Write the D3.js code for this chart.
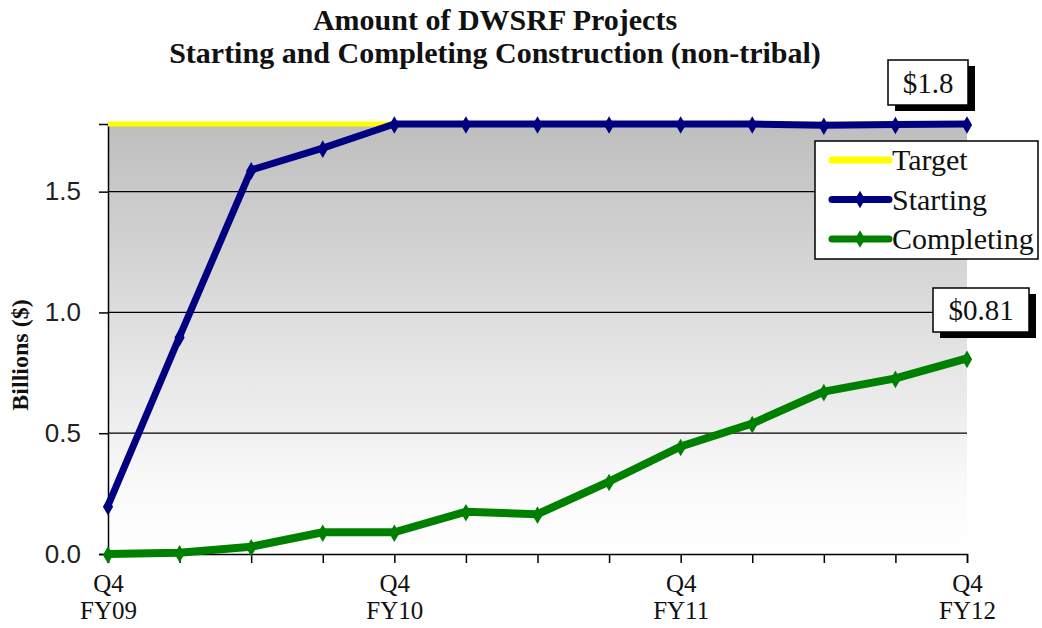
<!DOCTYPE html>
<html>
<head>
<meta charset="utf-8">
<script src="https://cdn.jsdelivr.net/npm/d3@7"></script>
<style>
  html, body { margin: 0; padding: 0; background: #fff; }
  svg { display: block; }
</style>
</head>
<body>
<svg id="chart" width="1042" height="628"></svg>
<script>
// Quarterly periods, Q4 FY09 through Q4 FY12
const quarters = ["Q4 FY09","Q1 FY10","Q2 FY10","Q3 FY10","Q4 FY10",
                  "Q1 FY11","Q2 FY11","Q3 FY11","Q4 FY11",
                  "Q1 FY12","Q2 FY12","Q3 FY12","Q4 FY12"];
// Cumulative amounts, billions of dollars
const target     = [1.78,1.78,1.78,1.78,1.78,1.78,1.78,1.78,1.78,1.78,1.78,1.78,1.78];
const starting   = [0.20,0.90,1.59,1.68,1.78,1.78,1.78,1.78,1.78,1.78,1.775,1.778,1.78];
const completing = [0.00,0.005,0.03,0.09,0.09,0.175,0.165,0.30,0.445,0.54,0.672,0.727,0.81];
const yTicks = [0, 0.5, 1.0, 1.5];
const callouts = [
  {label: "$1.8",  value: 1.78},
  {label: "$0.81", value: 0.81}
];

const svg = d3.select("#chart");
const W = 1042, H = 628;
const m = {left: 108, right: W - 967, top: 124, bottom: H - 554};
const serif = "'Liberation Serif', 'Times New Roman', serif";

const x = d3.scalePoint().domain(quarters).range([m.left, W - m.right]);
const y = d3.scaleLinear().domain([0, 1.78]).range([H - m.bottom, m.top]);

// plot background: grey fading to white
const defs = svg.append("defs");
const grad = defs.append("linearGradient").attr("id", "plotFill")
  .attr("x1", 0).attr("y1", 0).attr("x2", 0).attr("y2", 1);
grad.append("stop").attr("offset", "0%").attr("stop-color", "#bebebe");
grad.append("stop").attr("offset", "85%").attr("stop-color", "#fafafa");
grad.append("stop").attr("offset", "100%").attr("stop-color", "#ffffff");

svg.append("rect")
  .attr("x", m.left).attr("y", m.top)
  .attr("width", W - m.right - m.left).attr("height", H - m.bottom - m.top)
  .attr("fill", "url(#plotFill)");

// horizontal gridlines
svg.append("g").selectAll("line").data(yTicks.filter(d => d > 0)).join("line")
  .attr("x1", m.left).attr("x2", W - m.right)
  .attr("y1", d => y(d)).attr("y2", d => y(d))
  .attr("stroke", "#000").attr("stroke-width", 1.3);

// title
const title = svg.append("text")
  .attr("text-anchor", "middle")
  .attr("font-family", serif)
  .attr("font-weight", "bold").attr("font-size", 30).attr("fill", "#111");
title.append("tspan").attr("x", 495).attr("y", 30).text("Amount of DWSRF Projects");
title.append("tspan").attr("x", 495).attr("y", 63).text("Starting and Completing Construction (non-tribal)");

// y axis
const yAxis = svg.append("g").attr("transform", `translate(${m.left},0)`)
  .call(d3.axisLeft(y).tickValues(yTicks).tickFormat(d3.format(".1f")).tickSize(9).tickPadding(18));
yAxis.select(".domain").attr("stroke", "#000").attr("stroke-width", 1.5);
yAxis.selectAll(".tick line").attr("stroke", "#000").attr("stroke-width", 1.5);
yAxis.selectAll(".tick text")
  .attr("font-family", "'Liberation Sans', Arial, sans-serif")
  .attr("font-size", 26).attr("fill", "#222");

svg.append("text")
  .attr("transform", "translate(28,355) rotate(-90)")
  .attr("text-anchor", "middle")
  .attr("font-family", serif)
  .attr("font-weight", "bold").attr("font-size", 24).attr("fill", "#111")
  .text("Billions ($)");

// x axis: ticks on every quarter, labels on the Q4 quarters only
const xAxis = svg.append("g").attr("transform", `translate(0,${H - m.bottom})`)
  .call(d3.axisBottom(x).tickSize(9).tickFormat(() => ""));
xAxis.select(".domain").attr("stroke", "#000").attr("stroke-width", 1.5);
xAxis.selectAll(".tick line").attr("stroke", "#000").attr("stroke-width", 1.5);
xAxis.selectAll(".tick text").remove();
xAxis.selectAll(".tick").filter(d => d.startsWith("Q4")).each(function(d) {
  const parts = d.split(" ");
  const g = d3.select(this);
  parts.forEach((p, i) => {
    g.append("text").attr("x", 0).attr("y", 38 + i * 27)
      .attr("text-anchor", "middle")
      .attr("font-family", serif).attr("font-size", 25).attr("fill", "#111")
      .text(p);
  });
});

// series
const series = [
  {name: "Target",     values: target,     color: "#ffff00", width: 5, marker: false},
  {name: "Starting",   values: starting,   color: "#000080", width: 7, marker: true},
  {name: "Completing", values: completing, color: "#008000", width: 8, marker: true}
];
const line = d3.line().x((d, i) => x(quarters[i])).y(d => y(d));
const diamond = d3.symbol().type(d3.symbolDiamond).size(90);

series.forEach(s => {
  const g = svg.append("g");
  g.append("path").datum(s.values)
    .attr("d", line).attr("fill", "none")
    .attr("stroke", s.color).attr("stroke-width", s.width)
    .attr("stroke-linejoin", "round");
  if (s.marker) {
    g.selectAll("path.mk").data(s.values).join("path").attr("class", "mk")
      .attr("d", diamond)
      .attr("transform", (d, i) => `translate(${x(quarters[i])},${y(d) + 1})`)
      .attr("fill", s.color);
  }
});

// legend
const lg = svg.append("g").attr("transform", "translate(815,141)");
lg.append("rect").attr("width", 223).attr("height", 118)
  .attr("fill", "#fff").attr("stroke", "#000").attr("stroke-width", 1.5);
series.forEach((s, i) => {
  const cy = 19 + i * 39.5;
  lg.append("line").attr("x1", 17).attr("x2", 74).attr("y1", cy).attr("y2", cy)
    .attr("stroke", s.color).attr("stroke-width", 7).attr("stroke-linecap", "round");
  if (s.marker) {
    lg.append("path").attr("d", diamond).attr("transform", `translate(45,${cy})`).attr("fill", s.color);
  }
  lg.append("text").attr("x", 77).attr("y", cy + 10)
    .attr("font-family", serif)
    .attr("font-size", 30).attr("fill", "#111").text(s.name);
});

// value callouts at the last period
const boxes = [
  {d: callouts[0], x: 888, y: 60, w: 80, h: 45},
  {d: callouts[1], x: 933, y: 288, w: 96, h: 44}
];
boxes.forEach(b => {
  const g = svg.append("g");
  g.append("rect").attr("x", b.x + 7).attr("y", b.y + 6).attr("width", b.w).attr("height", b.h).attr("fill", "#000");
  g.append("rect").attr("x", b.x).attr("y", b.y).attr("width", b.w).attr("height", b.h)
    .attr("fill", "#fff").attr("stroke", "#000").attr("stroke-width", 1.5);
  g.append("text").attr("x", b.x + b.w / 2).attr("y", b.y + b.h / 2 + 10)
    .attr("text-anchor", "middle")
    .attr("font-family", serif)
    .attr("font-size", 29).attr("fill", "#111").text(b.d.label);
});
</script>
</body>
</html>
